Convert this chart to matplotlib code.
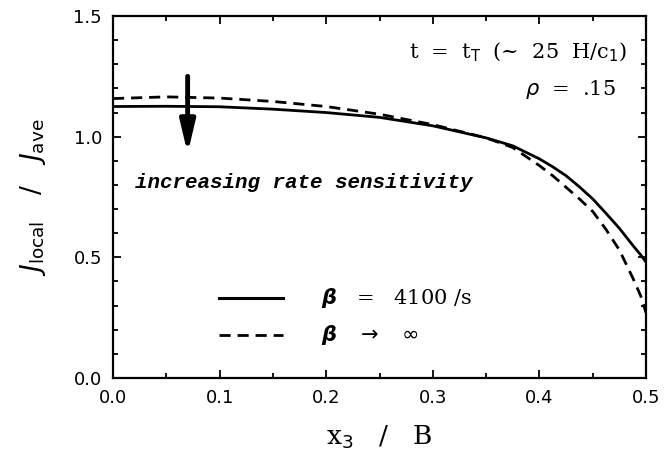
import matplotlib
matplotlib.use("Agg")
import matplotlib.pyplot as plt
import numpy as np
from matplotlib.ticker import MultipleLocator

# curve values
x_vals = [0.0, 0.05, 0.1, 0.15, 0.2, 0.25, 0.3, 0.35, 0.375, 0.4, 0.4125, 0.425,
          0.4375, 0.45, 0.4625, 0.475, 0.4875, 0.495, 0.5]
j_beta4100 = [1.125, 1.126, 1.124, 1.114, 1.10, 1.08, 1.045, 0.995, 0.962, 0.908, 0.875, 0.838,
              0.792, 0.742, 0.682, 0.62, 0.55, 0.51, 0.48]
j_betainf = [1.158, 1.165, 1.16, 1.146, 1.125, 1.093, 1.05, 0.995, 0.955, 0.88, 0.838, 0.79,
             0.742, 0.69, 0.615, 0.53, 0.415, 0.34, 0.27]

x_ticks = [0.0, 0.1, 0.2, 0.3, 0.4, 0.5]
y_ticks = [0.0, 0.5, 1.0, 1.5]

serif = "DejaVu Serif"

fig = plt.figure(figsize=(6.64, 4.58), dpi=100)
ax = fig.add_axes([0.1702, 0.1747, 0.8028, 0.7903])

ax.plot(x_vals, j_beta4100, color="black", lw=2.0, solid_capstyle="butt")
ax.plot(x_vals, j_betainf, color="black", lw=2.0, dashes=(4, 2.5))

ax.set_xlim(0, 0.5)
ax.set_ylim(0, 1.5)
ax.set_xticks(x_ticks)
ax.set_yticks(y_ticks)
ax.set_xticklabels(["%.1f" % v for v in x_ticks])
ax.set_yticklabels(["%.1f" % v for v in y_ticks])
ax.xaxis.set_minor_locator(MultipleLocator(0.05))
ax.yaxis.set_minor_locator(MultipleLocator(0.1))
ax.tick_params(which="both", direction="in", top=True, right=True, width=1.3, labelsize=13, pad=8)
ax.tick_params(which="major", length=6)
ax.tick_params(which="minor", length=3.5)
for s in ax.spines.values():
    s.set_linewidth(1.6)

ax.set_xlabel(r"x$_3$   /   B", fontsize=19, family=serif, labelpad=12)
ax.set_ylabel(r"$J_{\mathrm{local}}$   /   $J_{\mathrm{ave}}$", fontsize=19, labelpad=18)

# arrow
ax.annotate("", xy=(0.07, 0.93), xytext=(0.07, 1.25),
            arrowprops=dict(arrowstyle="-|>,head_width=0.45,head_length=1.9", lw=3.5,
                            color="black", shrinkA=0, shrinkB=0))
ax.text(0.021, 0.81, "increasing rate sensitivity", fontsize=15, family="Liberation Mono",
        style="italic", weight="bold", va="center", ha="left")

ax.text(0.482, 1.35, r"t  =  t$_\mathrm{T}$  (~  25  H/c$_1$)", fontsize=15, family=serif,
        va="center", ha="right")
ax.text(0.472, 1.195, r"$\rho$  =  .15", fontsize=15, family=serif, va="center", ha="right")

# legend drawn by hand
ax.plot([0.099, 0.159], [0.33, 0.33], color="black", lw=2.2)
ax.plot([0.099, 0.159], [0.177, 0.177], color="black", lw=2.0, dashes=(4, 2.5))
ax.text(0.195, 0.33, r"$\boldsymbol{\beta}$   =   4100 /s", fontsize=15, family=serif, va="center")
ax.text(0.195, 0.177, r"$\boldsymbol{\beta}$   $\rightarrow$   $\infty$", fontsize=15, family=serif, va="center")

fig.savefig("out.png", dpi=100)
